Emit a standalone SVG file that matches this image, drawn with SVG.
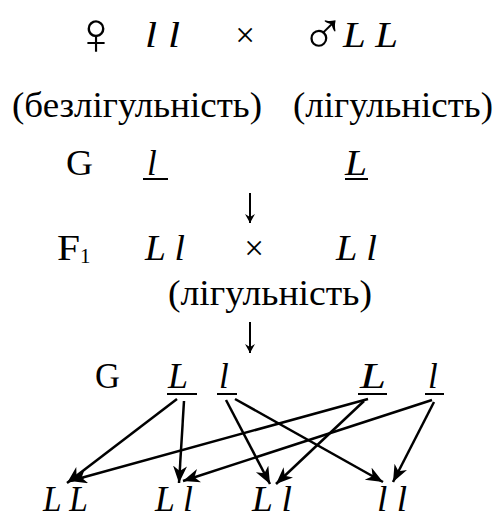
<svg xmlns="http://www.w3.org/2000/svg" width="497" height="519" viewBox="0 0 497 519">
<style>
text{font-size:35px;fill:#000}
.i{font-style:italic}
.s{font-size:60px}
.u{stroke:#000;stroke-width:2}
.c{stroke:#000;stroke-width:2.5;fill:none}
.v{stroke:#000;stroke-width:2;fill:none}
</style>
<defs>
<marker id="ah" markerUnits="userSpaceOnUse" markerWidth="20" markerHeight="16" refX="17" refY="7" orient="auto">
<path d="M0,0 L17,7 L0,14 L5,7 Z" fill="#000"/>
</marker>
<marker id="ah2" markerUnits="userSpaceOnUse" markerWidth="12" markerHeight="12" refX="9" refY="5" orient="auto">
<path d="M0,0 L9,5 L0,10 L3,5 Z" fill="#000"/>
</marker>
</defs>
<rect width="497" height="519" fill="#fff"/>
<g font-family="Liberation Serif, Times New Roman, serif">
<g id="p-female"><text class="s" x="96" y="54" text-anchor="middle">♀</text><text class="i" x="145" y="47" textLength="35" lengthAdjust="spacingAndGlyphs">l l</text></g>
<g id="p-cross"><text x="245" y="47" text-anchor="middle">×</text></g>
<g id="p-male"><text class="s" x="323" y="54" text-anchor="middle">♂</text><text class="i" x="343" y="47" textLength="55" lengthAdjust="spacingAndGlyphs">L L</text></g>
<g id="ph-female"><text x="12" y="117" textLength="250" lengthAdjust="spacingAndGlyphs">(безлігульність)</text></g>
<g id="ph-male"><text x="293" y="117" textLength="200" lengthAdjust="spacingAndGlyphs">(лігульність)</text></g>
<g id="g1"><text x="66" y="175" textLength="27" lengthAdjust="spacingAndGlyphs">G</text>
<text class="i" x="147" y="175">l</text><line class="u" x1="143" y1="179" x2="168" y2="179"/>
<text class="i" x="345" y="175" textLength="22" lengthAdjust="spacingAndGlyphs">L</text><line class="u" x1="345" y1="179" x2="368" y2="179"/></g>
<g id="f1"><text x="57" y="260" textLength="23" lengthAdjust="spacingAndGlyphs">F</text><text x="80" y="263" style="font-size:21px">1</text>
<text class="i" x="145" y="260" textLength="40" lengthAdjust="spacingAndGlyphs">L l</text>
<text x="254" y="260" text-anchor="middle">×</text>
<text class="i" x="336" y="260" textLength="41" lengthAdjust="spacingAndGlyphs">L l</text>
<text x="168" y="305" textLength="204" lengthAdjust="spacingAndGlyphs">(лігульність)</text></g>
<g id="g2"><text x="95" y="388" textLength="25" lengthAdjust="spacingAndGlyphs">G</text>
<text class="i" x="168" y="388" textLength="20" lengthAdjust="spacingAndGlyphs">L</text><line class="u" x1="167" y1="394" x2="197" y2="394"/>
<text class="i" x="219" y="388">l</text><line class="u" x1="217" y1="394" x2="237" y2="394"/>
<text class="i" x="360" y="388" textLength="26" lengthAdjust="spacingAndGlyphs">L</text><line class="u" x1="358" y1="394" x2="387" y2="394"/>
<text class="i" x="428" y="388">l</text><line class="u" x1="425" y1="394" x2="444" y2="394"/></g>
<g id="o-LL"><text class="i" x="43" y="511" textLength="45" lengthAdjust="spacingAndGlyphs">L L</text></g>
<g id="o-Ll1"><text class="i" x="155" y="511" textLength="38" lengthAdjust="spacingAndGlyphs">L l</text></g>
<g id="o-Ll2"><text class="i" x="252" y="511" textLength="40" lengthAdjust="spacingAndGlyphs">L l</text></g>
<g id="o-ll"><text class="i" x="377" y="511" textLength="30" lengthAdjust="spacingAndGlyphs">l l</text></g>
</g>
<g id="connectors">
<line class="v" x1="250" y1="193" x2="250" y2="223" marker-end="url(#ah2)"/>
<line class="v" x1="250" y1="322" x2="250" y2="353" marker-end="url(#ah2)"/>
<line class="c" x1="177" y1="399" x2="67" y2="483" marker-end="url(#ah)"/>
<line class="c" x1="184" y1="401" x2="179" y2="483" marker-end="url(#ah)"/>
<line class="c" x1="226" y1="400" x2="270" y2="484" marker-end="url(#ah)"/>
<line class="c" x1="235" y1="399" x2="383" y2="482" marker-end="url(#ah)"/>
<line class="c" x1="368" y1="399" x2="70" y2="481" marker-end="url(#ah)"/>
<line class="c" x1="364" y1="401" x2="276" y2="484" marker-end="url(#ah)"/>
<line class="c" x1="432" y1="400" x2="183" y2="481" marker-end="url(#ah)"/>
<line class="c" x1="434" y1="402" x2="393" y2="482" marker-end="url(#ah)"/>
</g>
</svg>
